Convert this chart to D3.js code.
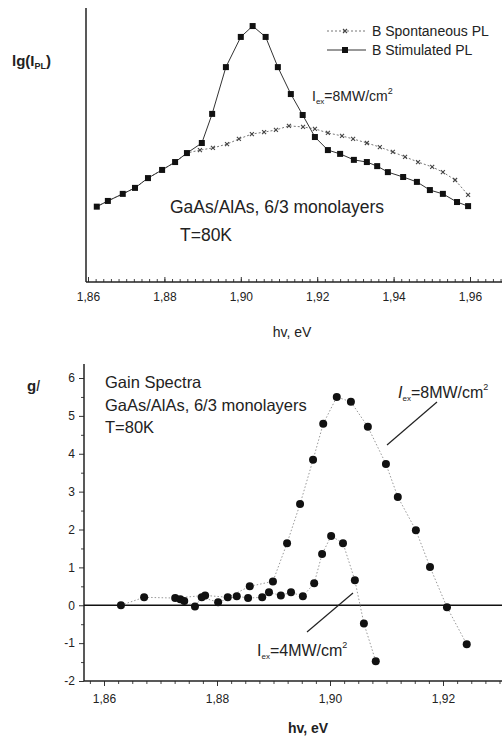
<!DOCTYPE html>
<html>
<head>
<meta charset="utf-8">
<script src="https://cdn.jsdelivr.net/npm/d3@7/dist/d3.min.js"></script>
<style>
  body { margin: 0; background: #fff; }
  svg { display: block; font-family: "Liberation Sans", Arial, sans-serif; }
</style>
</head>
<body>
<script>
// top panel: PL spectra (lg scale, arbitrary units)
var stimX = [1.8623, 1.8652, 1.8691, 1.8723, 1.8757, 1.8794, 1.8828, 1.8859, 1.8898, 1.8925,
             1.8961, 1.9000, 1.9031, 1.9065, 1.9097, 1.9131, 1.9162, 1.9194, 1.9228, 1.9260,
             1.9296, 1.9330, 1.9357, 1.9385, 1.9425, 1.9461, 1.9495, 1.9529, 1.9566, 1.9595];
var stimY = [2.77, 2.98, 3.24, 3.46, 3.82, 4.12, 4.41, 4.74, 5.11, 6.18,
             7.90, 9.01, 9.41, 9.01, 7.90, 6.91, 6.14, 5.33, 4.85, 4.71,
             4.49, 4.41, 4.26, 4.04, 3.86, 3.68, 3.38, 3.24, 2.94, 2.79];

var sponX = [1.8623, 1.8652, 1.8691, 1.8723, 1.8757, 1.8794, 1.8828, 1.8859, 1.8893, 1.8927,
             1.8964, 1.8995, 1.9029, 1.9061, 1.9092, 1.9126, 1.9163, 1.9194, 1.9228, 1.9265,
             1.9294, 1.9330, 1.9364, 1.9398, 1.9430, 1.9464, 1.9501, 1.9529, 1.9561, 1.9595];
var sponY = [2.77, 2.98, 3.24, 3.46, 3.82, 4.12, 4.41, 4.74, 4.85, 4.93,
             5.07, 5.26, 5.44, 5.51, 5.59, 5.74, 5.70, 5.63, 5.48, 5.37,
             5.26, 5.11, 4.96, 4.78, 4.60, 4.41, 4.23, 4.04, 3.75, 3.20];

var topTicks = ["1,86", "1,88", "1,90", "1,92", "1,94", "1,96"];
var topTickVals = [1.86, 1.88, 1.90, 1.92, 1.94, 1.96];

// bottom panel: gain spectra
var g8X = [1.8630, 1.8671, 1.8726, 1.8779, 1.8819, 1.8858, 1.8899, 1.8924, 1.8947, 1.8970,
           1.8988, 1.9012, 1.9037, 1.9067, 1.9099, 1.9120, 1.9152, 1.9177, 1.9207, 1.9242];
var g8Y = [0.00, 0.21, 0.19, 0.26, 0.21, 0.50, 0.63, 1.64, 2.67, 3.84,
           4.79, 5.50, 5.37, 4.71, 3.73, 2.86, 1.98, 1.01, -0.05, -1.03];

var g4X = [1.8735, 1.8742, 1.8761, 1.8773, 1.8802, 1.8835, 1.8855, 1.8880, 1.8892, 1.8913,
           1.8931, 1.8952, 1.8972, 1.8986, 1.9002, 1.9023, 1.9044, 1.9060, 1.9081];
var g4Y = [0.16, 0.11, -0.03, 0.21, 0.08, 0.24, 0.19, 0.21, 0.34, 0.26,
           0.34, 0.24, 0.58, 1.35, 1.83, 1.64, 0.66, -0.48, -1.48];

var botXTicks = ["1,86", "1,88", "1,90", "1,92"];
var botXTickVals = [1.86, 1.88, 1.90, 1.92];
var botYTicks = [-2, -1, 0, 1, 2, 3, 4, 5, 6];

function zip(xs, ys) {
    var out = [];
    for (var i = 0; i < xs.length; i++) out.push({x: xs[i], y: ys[i]});
    return out;
}

var svg = d3.select("body").append("svg")
    .attr("width", 502)
    .attr("height", 742);

// ---------- top panel ----------
var xTop = d3.scaleLinear().domain([1.86, 1.96]).range([88, 470]);
var yTop = d3.scaleLinear().domain([0, 10]).range([282, 10]);

var topG = svg.append("g");

// minor ticks on x axis (inward)
var minorTop = d3.range(1.86, 1.9685, 0.002);
topG.append("g")
    .attr("transform", "translate(0,282)")
    .call(d3.axisBottom(xTop).tickValues(minorTop).tickSize(-3).tickFormat(""))
    .call(function(g) { g.select(".domain").remove(); })
    .selectAll("line").attr("stroke", "#444");

topG.append("g")
    .attr("transform", "translate(0,282)")
    .call(d3.axisBottom(xTop).tickValues(topTickVals).tickSize(-5).tickPadding(10)
        .tickFormat(function(d, i) { return topTicks[i]; }))
    .call(function(g) { g.select(".domain").remove(); })
    .call(function(g) {
        g.selectAll("text").style("font-size", "12px").attr("fill", "#222");
        g.selectAll("line").attr("stroke", "#333");
    });

topG.append("line").attr("x1", 86).attr("x2", 502).attr("y1", 282).attr("y2", 282)
    .attr("stroke", "#222").attr("stroke-width", 1.5);
topG.append("line").attr("x1", 86).attr("x2", 86).attr("y1", 8).attr("y2", 282)
    .attr("stroke", "#222").attr("stroke-width", 1.5);

var lineTop = d3.line().x(function(d) { return xTop(d.x); }).y(function(d) { return yTop(d.y); });

var spon = zip(sponX, sponY);
var stim = zip(stimX, stimY);

topG.append("path").datum(spon)
    .attr("fill", "none").attr("stroke", "#777").attr("stroke-width", 1)
    .attr("stroke-dasharray", "2 2").attr("d", lineTop);

topG.append("path").datum(stim)
    .attr("fill", "none").attr("stroke", "#333").attr("stroke-width", 1).attr("d", lineTop);

function xMark(sel, s) {
    sel.append("path")
        .attr("d", "M" + (-s) + "," + (-s) + "L" + s + "," + s + "M" + (-s) + "," + s + "L" + s + "," + (-s))
        .attr("stroke", "#444").attr("stroke-width", 1.1).attr("fill", "none");
}

topG.append("g").selectAll("g").data(spon).enter().append("g")
    .attr("transform", function(d) { return "translate(" + xTop(d.x) + "," + yTop(d.y) + ")"; })
    .each(function() { xMark(d3.select(this), 2); });

topG.append("g").selectAll("rect").data(stim).enter().append("rect")
    .attr("x", function(d) { return xTop(d.x) - 3; })
    .attr("y", function(d) { return yTop(d.y) - 3; })
    .attr("width", 6).attr("height", 6)
    .attr("fill", "#111");

// legend
var leg = topG.append("g").style("font-size", "14px").attr("fill", "#222");
leg.append("line").attr("x1", 327).attr("x2", 366).attr("y1", 31).attr("y2", 31)
    .attr("stroke", "#777").attr("stroke-dasharray", "2 2");
xMark(leg.append("g").attr("transform", "translate(345,31)"), 2);
leg.append("text").attr("x", 372).attr("y", 36).text("B Spontaneous PL");
leg.append("line").attr("x1", 327).attr("x2", 366).attr("y1", 50).attr("y2", 50)
    .attr("stroke", "#333");
leg.append("rect").attr("x", 342).attr("y", 47).attr("width", 6).attr("height", 6).attr("fill", "#111");
leg.append("text").attr("x", 372).attr("y", 55).text("B Stimulated PL");

// y label
var yl = topG.append("text").attr("x", 12).attr("y", 66)
    .style("font-size", "15px").style("font-weight", "bold").attr("fill", "#222");
yl.append("tspan").text("lg(I");
yl.append("tspan").attr("dy", 3).style("font-size", "9px").text("PL");
yl.append("tspan").attr("dy", -3).text(")");

// annotations
var ann = topG.append("text").attr("x", 312).attr("y", 101).style("font-size", "14px").attr("fill", "#222");
ann.append("tspan").text("I");
ann.append("tspan").attr("dy", 3).style("font-size", "8px").text("ex");
ann.append("tspan").attr("dy", -3).text("=8MW/cm");
ann.append("tspan").attr("dy", -7).style("font-size", "9px").text("2");

topG.append("text").attr("x", 170).attr("y", 213).style("font-size", "17.5px").attr("fill", "#222")
    .text("GaAs/AlAs, 6/3 monolayers");
topG.append("text").attr("x", 180).attr("y", 241).style("font-size", "17.5px").attr("fill", "#222")
    .text("T=80K");

topG.append("text").attr("x", 292).attr("y", 337).attr("text-anchor", "middle")
    .style("font-size", "14px").attr("fill", "#222").text("hv, eV");

// ---------- bottom panel ----------
var xBot = d3.scaleLinear().domain([1.86, 1.92]).range([104, 443]);
var yBot = d3.scaleLinear().domain([-2, 6]).range([681, 378]);

var bot = svg.append("g");

bot.append("g")
    .attr("transform", "translate(0,681)")
    .call(d3.axisBottom(xBot).tickValues(d3.range(1.8575, 1.931, 0.0025)).tickSize(3).tickFormat(""))
    .call(function(g) { g.select(".domain").remove(); })
    .selectAll("line").attr("stroke", "#444");

bot.append("g")
    .attr("transform", "translate(0,681)")
    .call(d3.axisBottom(xBot).tickValues(botXTickVals).tickSize(5).tickPadding(8)
        .tickFormat(function(d, i) { return botXTicks[i]; }))
    .call(function(g) { g.select(".domain").remove(); })
    .call(function(g) {
        g.selectAll("text").style("font-size", "12px").attr("fill", "#222");
        g.selectAll("line").attr("stroke", "#333");
    });

bot.append("g")
    .attr("transform", "translate(84,0)")
    .call(d3.axisLeft(yBot).tickValues(d3.range(-1.5, 6.2, 1)).tickSize(3).tickFormat(""))
    .call(function(g) { g.select(".domain").remove(); })
    .selectAll("line").attr("stroke", "#444");

bot.append("g")
    .attr("transform", "translate(84,0)")
    .call(d3.axisLeft(yBot).tickValues(botYTicks).tickSize(5).tickPadding(4)
        .tickFormat(function(d) { return String(d); }))
    .call(function(g) { g.select(".domain").remove(); })
    .call(function(g) {
        g.selectAll("text").style("font-size", "12px").attr("fill", "#222");
        g.selectAll("line").attr("stroke", "#333");
    });

bot.append("line").attr("x1", 84).attr("x2", 502).attr("y1", 681).attr("y2", 681)
    .attr("stroke", "#222").attr("stroke-width", 1.5);
bot.append("line").attr("x1", 84).attr("x2", 84).attr("y1", 364).attr("y2", 681)
    .attr("stroke", "#222").attr("stroke-width", 1.5);
bot.append("line").attr("x1", 84).attr("x2", 502).attr("y1", yBot(0)).attr("y2", yBot(0))
    .attr("stroke", "#111").attr("stroke-width", 1.3);

var lineBot = d3.line().x(function(d) { return xBot(d.x); }).y(function(d) { return yBot(d.y); });
var g8 = zip(g8X, g8Y);
var g4 = zip(g4X, g4Y);

[g8, g4].forEach(function(ser) {
    bot.append("path").datum(ser)
        .attr("fill", "none").attr("stroke", "#999").attr("stroke-width", 1)
        .attr("stroke-dasharray", "1.5 2").attr("d", lineBot);
});

[g8, g4].forEach(function(ser) {
    bot.append("g").selectAll("circle").data(ser).enter().append("circle")
        .attr("cx", function(d) { return xBot(d.x); })
        .attr("cy", function(d) { return yBot(d.y); })
        .attr("r", 4).attr("fill", "#111");
});

var gl = bot.append("text").attr("x", 27).attr("y", 391).style("font-size", "15px").style("font-weight", "bold")
    .attr("fill", "#222");
gl.append("tspan").text("g");
gl.append("tspan").style("font-style", "italic").style("font-weight", "normal").text("l");

bot.append("text").attr("x", 105).attr("y", 388).style("font-size", "16.5px").attr("fill", "#222").text("Gain Spectra");
bot.append("text").attr("x", 105).attr("y", 411).style("font-size", "16.5px").attr("fill", "#222").text("GaAs/AlAs, 6/3 monolayers");
bot.append("text").attr("x", 105).attr("y", 433).style("font-size", "16.5px").attr("fill", "#222").text("T=80K");

var a8 = bot.append("text").attr("x", 398).attr("y", 398).style("font-size", "16px").attr("fill", "#222");
a8.append("tspan").style("font-style", "italic").text("I");
a8.append("tspan").attr("dy", 3).style("font-size", "8px").text("ex");
a8.append("tspan").attr("dy", -3).text("=8MW/cm");
a8.append("tspan").attr("dy", -8).style("font-size", "9px").text("2");
bot.append("line").attr("x1", 437).attr("y1", 402).attr("x2", 387).attr("y2", 445)
    .attr("stroke", "#222").attr("stroke-width", 1.2);

var a4 = bot.append("text").attr("x", 257).attr("y", 656).style("font-size", "16px").attr("fill", "#222");
a4.append("tspan").text("I");
a4.append("tspan").attr("dy", 3).style("font-size", "8px").text("ex");
a4.append("tspan").attr("dy", -3).text("=4MW/cm");
a4.append("tspan").attr("dy", -8).style("font-size", "9px").text("2");
bot.append("line").attr("x1", 307).attr("y1", 632).attr("x2", 353).attr("y2", 593)
    .attr("stroke", "#222").attr("stroke-width", 1.2);

bot.append("text").attr("x", 308).attr("y", 733).attr("text-anchor", "middle")
    .style("font-size", "14px").style("font-weight", "bold").attr("fill", "#222").text("hv, eV");
</script>
</body>
</html>
